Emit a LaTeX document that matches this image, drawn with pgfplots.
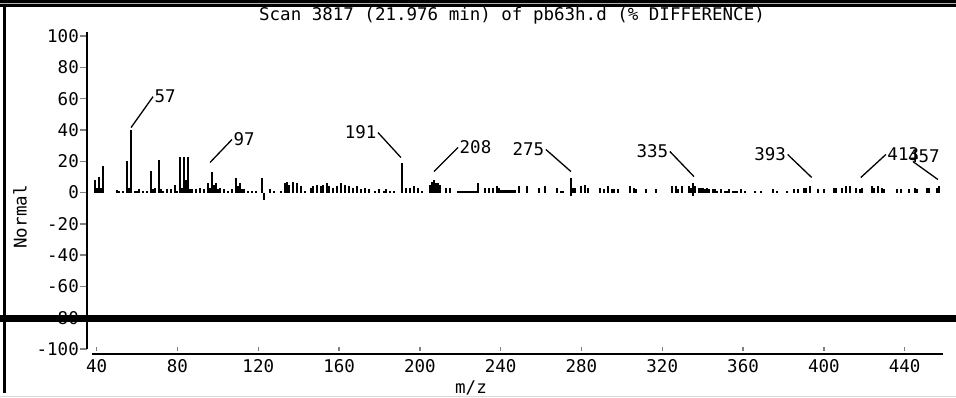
\documentclass[border=0pt]{standalone}
\usepackage{fontspec}
\setmainfont{DejaVu Sans Mono}
\usepackage{pgfplots}
\pgfplotsset{compat=1.18}
\begin{document}
\begin{tikzpicture}[font=\fontsize{17.5}{20}\selectfont]
\useasboundingbox (0,0) rectangle (956pt,397pt);
% frame of the scanned page
\fill[black] (0,390.3pt) rectangle (956pt,397pt);
\fill[gray!60] (0,393pt) rectangle (956pt,394.3pt);
\draw[line width=2.5pt] (4.3pt,4pt) -- (4.3pt,391pt);
\draw[gray!30, line width=1pt] (0,1pt) -- (956pt,1pt);
\begin{axis}[
  at={(87pt,43pt)}, anchor=south west,
  scale only axis, width=856pt, height=322pt,
  xmin=35.2, xmax=459, ymin=-103.2, ymax=102.6,
  axis y line=left, axis x line=bottom,
  y axis line style={-, line width=1.6pt, shorten <=5pt},
  x axis line style={-, line width=1.6pt, shorten <=5pt},
  tick align=outside, major tick length=7pt,
  ytick style={line width=1.4pt},
  xtick style={line width=1.4pt, yshift=7pt, yscale=0.5},
  xtick={40,80,...,440}, ytick={-100,-80,...,100},
  /pgf/number format/assume math mode=true,
  yticklabel style={inner sep=1pt},
  xticklabel style={inner sep=1pt, yshift=3pt},
  clip=false,
  every axis title shift=0pt,
  title={Scan 3817 (21.976 min) of pb63h.d (\% DIFFERENCE)},
  title style={at={(axis description cs:0.4965,1.0497)}, anchor=center, yshift=0pt},
  xlabel={m/z},
  xlabel style={at={(axis description cs:0.4486,-0.1056)}, anchor=center, yshift=0pt},
  ylabel={Normal},
  ylabel style={at={(axis description cs:-0.0783,0.4255)}, anchor=center, xshift=0pt},
]
\addplot[ycomb, black, line width=2pt, mark=none] coordinates {
(39,8)(40,3)(41,10)(42,3)(43,17)(50,1.5)(51,1)(53,1)(55,20)(56,3)(57,40)
(59,1)(60,1)(61,2)(63,1)(65,1)(67,14)(68,2)(69,3)(71,21)(72,2)(73,1)(75,2)
(77,2)(79,5)(80,1)(81,23)(82,3)(83,23)(84,8)(85,23)(86,2)(87,2)(89,2)(91,3)
(93,2)(95,6)(96,3)(97,13)(98,5)(99,6)(100,2)(101,3)(103,2)(105,1)(107,2)
(109,9)(110,4)(111,6)(112,2)(113,2)(115,1)(117,1)(119,1)(122,9)(123,-5)
(126,2)(128,1)(131,1)(133,6)(134,7)(135,5)(137,7)(139,6)(141,4)(143,1)
(146,3)(147,4)(149,5)(151,4)(152,5)(154,6)(155,4)(157,3)(159,4)(161,6)
(163,5)(165,4)(167,3)(169,4)(171,2)(173,3)(175,2)(178,1)(180,2)(182,1)
(183,2)(185,1)(187,1)(191,19)(193,3)(195,3)(197,4)(199,3)(201,1)(205,5)
(206,7)(207,8)(208,6)(209,6)(210,5)(213,3)(215,3)(219,1)(220,1)(221,1)
(222,1)(223,1)(224,1)(225,1)(226,1)(227,1)(228,1)(229,6)(232,3)(234,3)
(236,3)(238,4)(239,3)(240,1.5)(241,1.5)(242,1.5)(243,1.5)(244,1.5)(245,1.5)
(246,1.5)(247,1.5)(249,4)(253,4)(259,3)(262,4)(268,3)(270,1)(271,1)(275,9)
(275,-2)(276,3)(277,3)(280,4)(282,5)(283,3)(289,3)(291,2)(293,4)(295,2)
(296,2)(298,2)(304,4)(306,3)(307,2)(312,2)(317,2)(325,4)(327,4)(328,2)
(330,4)(333,4)(334,3)(335,6)(335,-2)(336,4)(338,3)(339,3)(340,3)(341,2)
(342,3)(343,2)(345,2)(346,2)(347,1)(349,2)(351,1)(352,1)(353,2)(355,1)
(356,1)(357,1)(359,2)(361,1)(366,1)(369,1)(375,2)(377,1)(382,1)(385,2)
(387,2)(390,3)(391,3)(393,4)(397,2)(400,2)(405,3)(406,3)(409,3)(411,4)
(413,4)(416,3)(418,2)(419,3)(424,4)(425,3)(427,4)(429,3)(430,2)(436,2)
(438,2)(442,2)(445,3)(446,2)(451,3)(452,3)(456,3)(457,4)
};
% peak annotations
\begin{scope}[line width=1.3pt]
\draw (axis cs:57,41.5) -- (axis cs:67.9,61.3) node[anchor=west, inner sep=1pt] {57};
\draw (axis cs:96.1,19.2) -- (axis cs:107,33.9) node[anchor=west, inner sep=1pt] {97};
\draw (axis cs:190.6,22.4) -- (axis cs:179.3,38.3) node[anchor=east, inner sep=1pt] {191};
\draw (axis cs:207,13.4) -- (axis cs:218.9,28.8) node[anchor=west, inner sep=1pt] {208};
\draw (axis cs:274.8,13.4) -- (axis cs:262.4,27.5) node[anchor=east, inner sep=1pt] {275};
\draw (axis cs:335.7,10.2) -- (axis cs:323.8,26.2) node[anchor=east, inner sep=1pt] {335};
\draw (axis cs:394,9.6) -- (axis cs:382.1,24.3) node[anchor=east, inner sep=1pt] {393};
\draw (axis cs:418.3,9.6) -- (axis cs:430.7,24.3) node[anchor=west, inner sep=1pt] {413};
\draw (axis cs:456.5,8.3) -- (axis cs:444.1,19.8);
\node at (axis cs:449.5,23) {457};
\end{scope}
\end{axis}
% scanning artefact: heavy rule across the page
\draw[line width=6.7pt] (0,78.7pt) -- (956pt,78.7pt);
\end{tikzpicture}
\end{document}
